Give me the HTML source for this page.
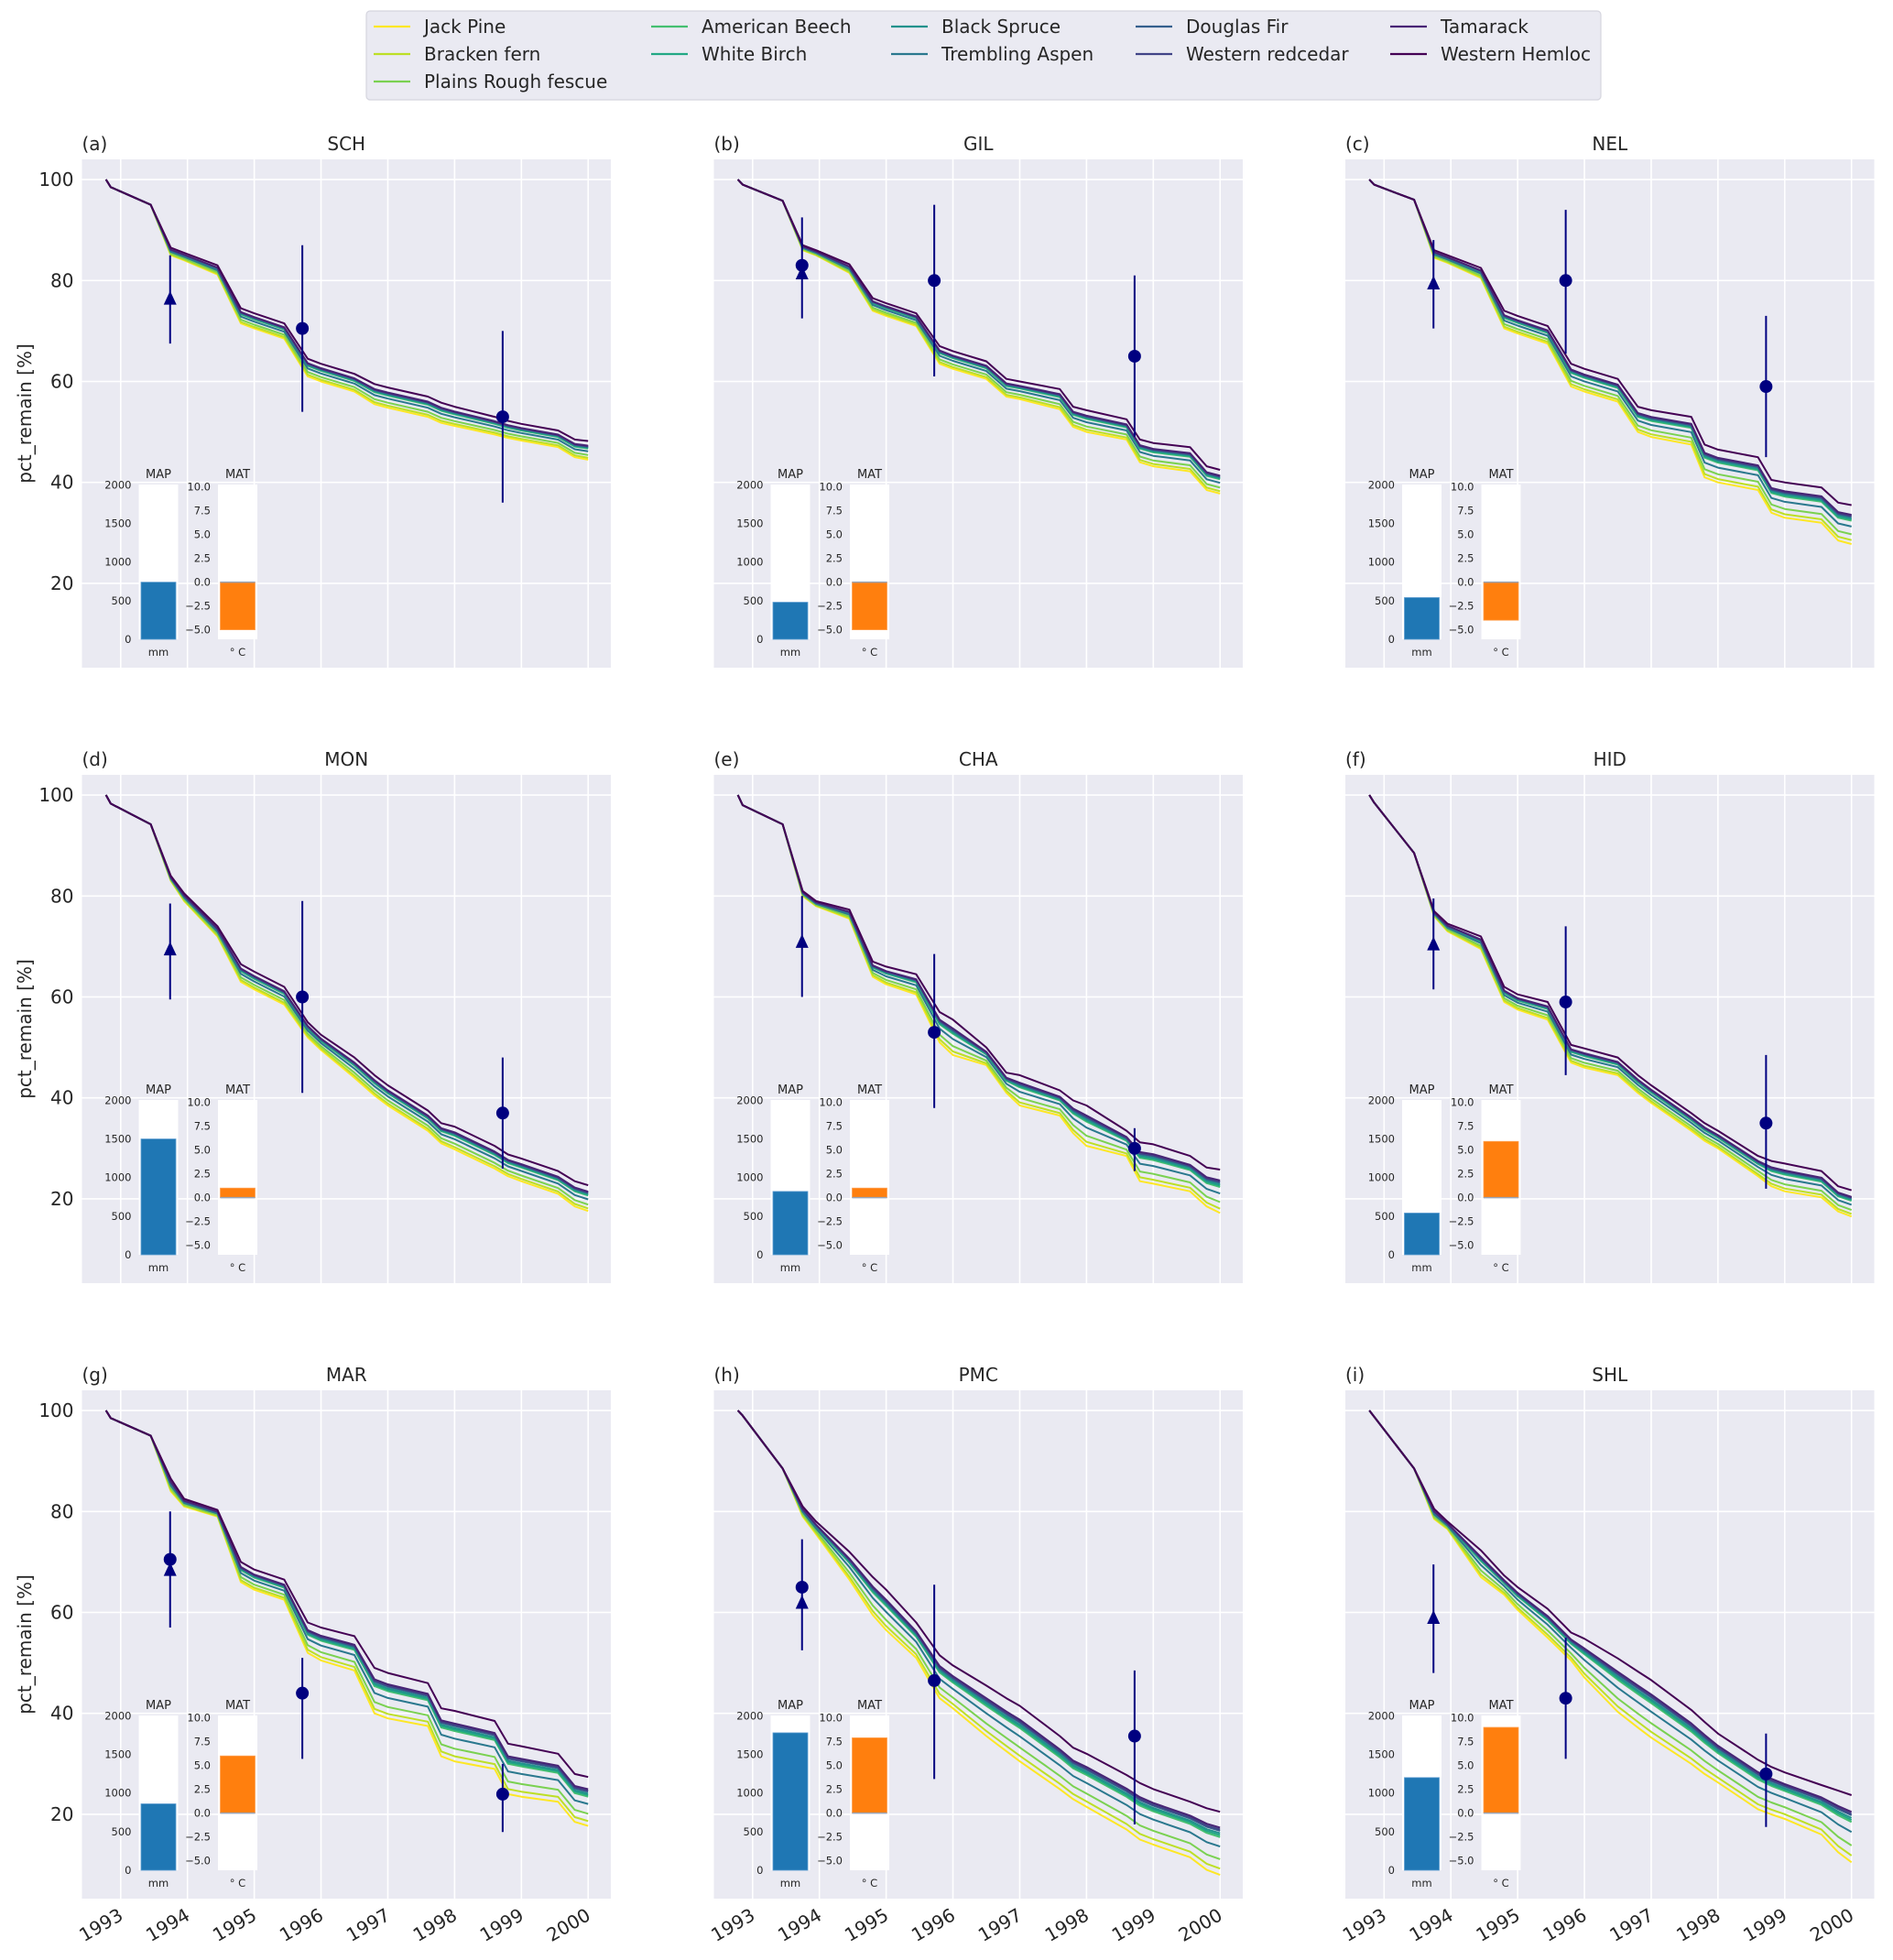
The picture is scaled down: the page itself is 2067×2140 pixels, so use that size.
<!DOCTYPE html>
<html><head><meta charset="utf-8">
<style>
html,body{margin:0;padding:0;background:#fff;}
svg{display:block;font-family:"DejaVu Sans","Liberation Sans",sans-serif;}
</style></head>
<body>
<svg id="fig" width="2067" height="2140" viewBox="0 0 2067 2140" xmlns="http://www.w3.org/2000/svg"></svg>
<script>
// ---------- data ----------
const knots = [1992.78,1992.85,1993.45,1993.75,1993.95,1994.45,1994.8,1995.0,1995.45,1995.8,1996.0,1996.5,1996.8,1997.0,1997.6,1997.8,1998.0,1998.6,1998.8,1999.0,1999.55,1999.8,2000.0];
const panelLetters = ["(a)","(b)","(c)","(d)","(e)","(f)","(g)","(h)","(i)"];
const panelTitles = ["SCH","GIL","NEL","MON","CHA","HID","MAR","PMC","SHL"];
const schTop = [100,98.5,95,86.5,85.5,83,74.5,73.5,71.5,64.5,63.5,61.5,59.5,58.8,57,55.8,55,53,52.2,51.6,50.3,48.5,48.2];
const schBot = [100,98.5,95,85,84,81.2,71.5,70.5,68.5,61,60,58,55.5,54.8,53,51.8,51.2,49.5,48.8,48.3,47,45,44.5];
const gilTop = [100,99,95.8,87,86,83.2,76.5,75.5,73.5,67,66,64,60.5,60,58.5,55,54.3,52.5,48.5,47.8,47,43.2,42.5];
const gilBot = [100,99,95.8,86,85,81.5,74,73,71,63.5,62.5,60.5,57,56.5,54.5,51,50,48.5,44,43.2,42.2,38.5,37.8];
const nelTop = [100,99,96,86,85,82.5,74,73,71,63.5,62.5,60.5,55,54.3,53,47.5,46.5,45,40.5,40,39,36,35.5];
const nelBot = [100,99,96,84.5,83.5,80.5,70.5,69.5,67.5,59,58,56,50,49,47.5,41,40,38.5,34,33,32,28.5,27.8];
const monTop = [100,98.3,94.2,84,80.5,74,66.5,65,62,55,52.5,48,44.5,42.5,37.5,35,34.3,30.5,28.8,28,25.5,23.5,22.7];
const monBot = [100,98.3,94.2,83,79,72,63,61.5,58.5,52,49.5,44,40.5,38.5,33.5,31,29.8,26,24.5,23.5,21,18.5,17.6];
const chaTop = [100,98,94.2,81,79,77.3,67,66,64.5,57,55.5,50,45,44.5,41.5,39.5,38.5,33.5,31.2,30.8,28.5,26.2,25.8];
const chaBot = [100,98,94.2,80,78,75.5,64,62.5,60.5,51,48.5,46.5,41,38.5,36.5,33,30.5,28.5,23.5,23,21.5,18.5,17.2];
const hidTop = [100,98.5,88.5,77,74.5,72,62,60.5,59,50.5,49.8,48,44.5,42.5,37,35,33.5,28.5,27.5,27,25.5,22.5,21.7];
const hidBot = [100,98.5,88.5,76,73,69.5,59,57.5,55.5,47,46,44.5,41,39,33.5,31.5,30,24.5,22.5,21.5,20.3,17.5,16.5];
const marTop = [100,98.5,95,86.5,82.5,80.3,70,68.5,66.5,58,57,55.3,49,48,46,41,40.5,38.5,34,33.5,32,28,27.4];
const marBot = [100,98.5,95,84,81,79,66,64.5,62.5,52,50.5,48.5,40,39,37.5,31.5,30.5,29,24,23.5,22.5,18.5,17.7];
const pmcTop = [100,99,88.5,81,78,72,67,64.5,58,51.5,49.5,45.5,43,41.5,35.5,33.2,32,27.8,26.2,25,22.5,21.2,20.5];
const pmcBot = [100,99,88.5,79,75.5,66.5,59.5,56.5,51,43,41,35.5,32.5,30.5,25,23,21.5,17,15,14,11.5,9,8];
const shlTop = [100,98.8,88.5,80.5,78,72.3,67.3,65,60.7,56,54.8,50.9,48.3,46.6,40.7,38.3,36,30.8,29.4,28.3,25.8,24.7,23.8];
const shlBot = [100,98.8,88.5,78.5,76.5,67,63.5,60.5,55,50.5,47.1,40.3,37.2,35.2,30,28,26.3,21,20,19.1,16,12.5,10.5];
const topSeries = [schTop,gilTop,nelTop,monTop,chaTop,hidTop,marTop,pmcTop,shlTop];
const botSeries = [schBot,gilBot,nelBot,monBot,chaBot,hidBot,marBot,pmcBot,shlBot];

const speciesNames = ["Jack Pine","Bracken fern","Plains Rough fescue","American Beech","White Birch","Black Spruce","Trembling Aspen","Douglas Fir","Western redcedar","Tamarack","Western Hemloc"];
const speciesColors = ["#fde725","#bddf26","#7ad151","#44bf70","#22a884","#21918c","#2a788e","#355f8d","#414487","#482475","#440154"];
const speciesFrac = [0,0.1,0.25,0.6,0.63,0.66,0.45,0.7,0.72,0.75,1.0];

const obsYears = [1993.74,1995.72,1998.72];
const obsMid = [[76.5,70.5,53],[81.5,80,65],[79.5,80,59],[69.5,60,37],[71,53,30],[70.5,59,35],[68.5,44,24],[62,46.5,35.5],[59,43,28]];
const obsLo  = [[67.5,54,36],[72.5,61,49],[70.5,65.5,45],[59.5,41,26],[60,38,25.5],[61.5,44.5,22],[57,31,16.5],[52.5,27,18],[48,31,17.5]];
const obsHi  = [[85,87,70],[92.5,95,81],[88,94,73],[78.5,79,48],[80,68.5,34],[79.5,74,48.5],[80,51,30],[74.5,65.5,48.5],[69.5,55,36]];
const extraCircle = [null,83,null,null,null,null,70.5,65,null];

const mapVals = [740,480,540,1500,820,540,860,1780,1200];
const matVals = [-5,-5,-4,1,1,5.9,6,7.9,9];
const yTicks = [20,40,60,80,100];
const xTicks = [1993,1994,1995,1996,1997,1998,1999,2000];
const mapTicks = [0,500,1000,1500,2000];
const matTicks = [-5,-2.5,0,2.5,5,7.5,10];

// ---------- layout ----------
const NS = "http://www.w3.org/2000/svg";
const svg = document.getElementById('fig');
const colLeft = [89.5,779.5,1469], rowTop = [174,846,1518];
const AW = 577.5, AH = 555;
const XMIN = 1992.42, XMAX = 2000.34, YMIN = 3.3, YMAX = 104;
function mk(tag, attrs, parent){const e=document.createElementNS(NS,tag);for(const k in attrs)e.setAttribute(k,attrs[k]);(parent||svg).appendChild(e);return e;}
function txt(s, attrs, parent){const e=mk('text',attrs,parent);e.textContent=s;return e;}

// legend
const lg = mk('g',{});


mk('rect',{x:400,y:12,width:1348,height:97,rx:4,fill:'#eaeaf2',stroke:'#d5d5de','stroke-width':1.2},lg);
const legCols = [[0,1,2],[3,4],[5,6],[7,8],[9,10]];
const legHandleX = [408,711,973,1240,1518];
const legRowY = [29,59,89];
legCols.forEach((col,ci)=>{col.forEach((si,ri)=>{
  const g = mk('g',{},lg);
  
  
  mk('line',{x1:legHandleX[ci],x2:legHandleX[ci]+40,y1:legRowY[ri],y2:legRowY[ri],stroke:speciesColors[si],'stroke-width':2.2},g);
  txt(speciesNames[si],{x:legHandleX[ci]+55,y:legRowY[ri]+7,'font-size':20,fill:'#262626'},g);
});});

for(let p=0;p<9;p++){
  const r=Math.floor(p/3), c=p%3;
  const L=colLeft[c], T=rowTop[r];
  const sx=v=>L+(v-XMIN)/(XMAX-XMIN)*AW;
  const sy=v=>T+(YMAX-v)/(YMAX-YMIN)*AH;
  const g=mk('g',{});
  
  
  const bg=mk('rect',{x:L,y:T,width:AW,height:AH,fill:'#eaeaf2'},g);
  
  
  xTicks.forEach(v=>mk('line',{x1:sx(v),x2:sx(v),y1:T,y2:T+AH,stroke:'#fff','stroke-width':1.6},g));
  yTicks.forEach(v=>mk('line',{x1:L,x2:L+AW,y1:sy(v),y2:sy(v),stroke:'#fff','stroke-width':1.6},g));
  // titles
  const lt=txt(panelLetters[p],{x:L,y:T-10,'font-size':20,fill:'#262626'},g);
  
  
  const tt=txt(panelTitles[p],{x:L+AW/2,y:T-10,'font-size':20,fill:'#262626','text-anchor':'middle'},g);
  
  
  if(c===0){
    yTicks.forEach(v=>{const t=txt(String(v),{x:L-9,y:sy(v)+7,'font-size':20,fill:'#262626','text-anchor':'end'},g);
      
      });
    const yl=txt('pct_remain [%]',{x:0,y:0,'font-size':20,fill:'#262626','text-anchor':'middle',transform:`translate(34,${T+AH/2}) rotate(-90)`},g);
    
    
  }
  if(r===2){
    xTicks.forEach(v=>{const t=txt(String(v),{x:0,y:0,'font-size':20,fill:'#262626','text-anchor':'end',transform:`translate(${sx(v)+4},${T+AH+22}) rotate(-30)`},g);
      
      });
  }
  // clip
  const cid='clip'+p;
  const cp=mk('clipPath',{id:cid},g); mk('rect',{x:L,y:T,width:AW,height:AH},cp);
  const lines=mk('g',{'clip-path':`url(#${cid})`},g);
  for(let s=0;s<speciesNames.length;s++){
    const pts=knots.map((k,i)=>{const v=botSeries[p][i]+speciesFrac[s]*(topSeries[p][i]-botSeries[p][i]);return sx(k).toFixed(1)+','+sy(v).toFixed(1);}).join(' ');
    const pl=mk('polyline',{points:pts,fill:'none',stroke:speciesColors[s],'stroke-width':2,'stroke-linejoin':'round'},lines);
    
    
  }
  // observations
  for(let o=0;o<3;o++){
    const x=sx(obsYears[o]);
    const eb=mk('line',{x1:x,x2:x,y1:sy(obsLo[p][o]),y2:sy(obsHi[p][o]),stroke:'#000080','stroke-width':2},g);
    
    
    const y=sy(obsMid[p][o]);
    let m;
    if(o===0){m=mk('polygon',{points:`${x-7},${y+7} ${x+7},${y+7} ${x},${y-8}`,fill:'#000080'},g);}
    else{m=mk('circle',{cx:x,cy:y,r:7,fill:'#000080'},g);}
    
    
  }
  if(extraCircle[p]!==null){
    const m=mk('circle',{cx:sx(obsYears[0]),cy:sy(extraCircle[p]),r:7,fill:'#000080'},g);
    
    
  }
  // insets
  const iT=T+355, iH=169;
  const mapL=L+62, matL=L+148.5, iW=43;
  const mg=mk('g',{},g);
  
  
  mk('rect',{x:mapL,y:iT,width:iW,height:iH,fill:'#fff'},mg);
  const my=v=>iT+iH-(v/2005)*iH;
  mapTicks.forEach(v=>txt(String(v),{x:mapL-8,y:my(v)+4,'font-size':11.5,fill:'#262626','text-anchor':'end'},mg));
  const mb=mk('rect',{x:mapL+2.5,y:my(mapVals[p]),width:iW-5,height:iT+iH-my(mapVals[p]),fill:'#1f77b4',stroke:'#5b9bd0','stroke-width':0.8},mg);
  
  
  txt('MAP',{x:mapL+iW/2,y:iT-7,'font-size':13,fill:'#262626','text-anchor':'middle'},mg);
  txt('mm',{x:mapL+iW/2,y:iT+iH+18,'font-size':11.5,fill:'#262626','text-anchor':'middle'},mg);
  const tg=mk('g',{},g);
  
  
  mk('rect',{x:matL,y:iT,width:iW,height:iH,fill:'#fff'},tg);
  const ty=v=>iT+(10.25-v)/16.25*iH;
  matTicks.forEach(v=>txt(v<0?'\u2212'+Math.abs(v).toFixed(1):v.toFixed(1),{x:matL-8,y:ty(v)+4,'font-size':11.5,fill:'#262626','text-anchor':'end'},tg));
  const v0=ty(0), v1=ty(matVals[p]);
  const tb=mk('rect',{x:matL+2.5,y:Math.min(v0,v1),width:iW-5,height:Math.abs(v1-v0),fill:'#ff7f0e',stroke:'#ffa050','stroke-width':0.8},tg);
  
  
  mk('line',{x1:matL+2.5,x2:matL+iW-2.5,y1:v0,y2:v0,stroke:'#9aa3b5','stroke-width':1.5},tg);
  txt('MAT',{x:matL+iW/2,y:iT-7,'font-size':13,fill:'#262626','text-anchor':'middle'},tg);
  txt('\u00b0 C',{x:matL+iW/2,y:iT+iH+18,'font-size':11.5,fill:'#262626','text-anchor':'middle'},tg);
}
</script>
</body></html>
